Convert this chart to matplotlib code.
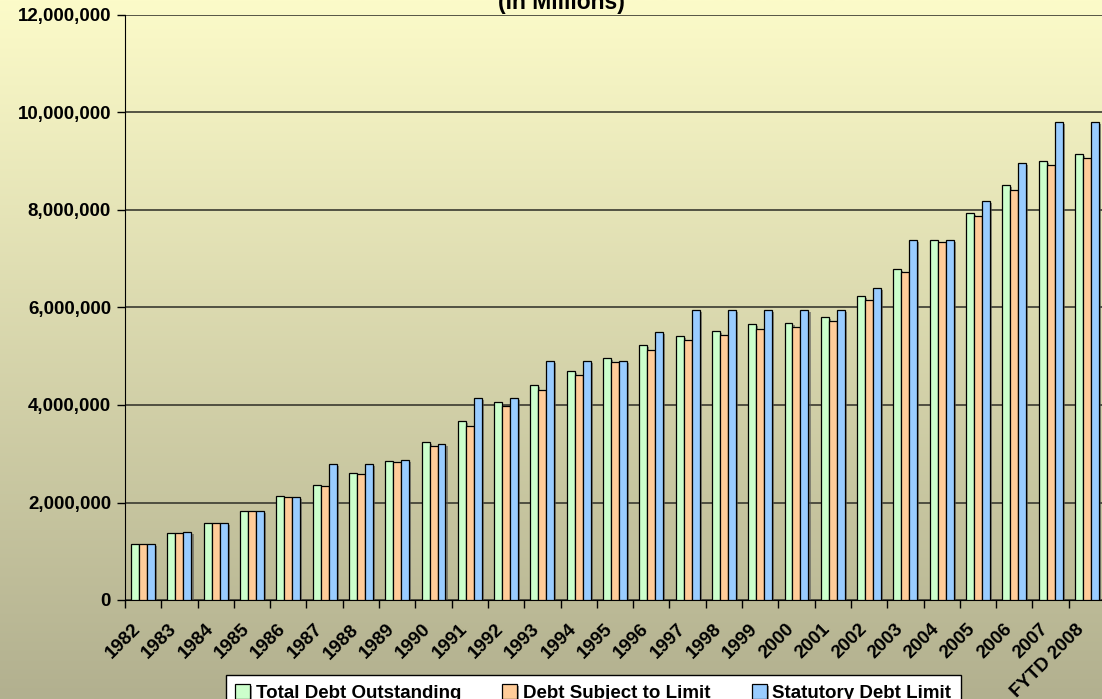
import numpy as np
import matplotlib.pyplot as plt
import matplotlib.transforms as mtransforms
from matplotlib import patheffects
from matplotlib.ticker import FuncFormatter, MultipleLocator

plt.rcParams['font.family'] = ['Liberation Sans', 'DejaVu Sans']
plt.rcParams['font.weight'] = 'bold'

# Data (in millions)
years = ['1982', '1983', '1984', '1985', '1986', '1987', '1988', '1989', '1990',
         '1991', '1992', '1993', '1994', '1995', '1996', '1997', '1998', '1999',
         '2000', '2001', '2002', '2003', '2004', '2005', '2006', '2007', 'FYTD 2008']
total_debt = [1142034, 1377210, 1572266, 1823103, 2125303, 2350277, 2602338, 2857431,
              3233313, 3665303, 4064621, 4411489, 4692750, 4973983, 5224811, 5413146,
              5526193, 5656271, 5674178, 5807463, 6228236, 6783231, 7379053, 7932710,
              8506974, 9007653, 9149000]
subject_debt = [1141000, 1375000, 1570000, 1821000, 2111000, 2336014, 2586869, 2829770,
                3161231, 3569300, 3972578, 4315571, 4605338, 4884605, 5137195, 5327624,
                5439447, 5567694, 5591625, 5732802, 6161431, 6737553, 7333350, 7871040,
                8420278, 8921343, 9067000]
debt_limit = [1143100, 1389000, 1573000, 1823800, 2111000, 2800000, 2800000, 2870000,
              3195000, 4145000, 4145000, 4900000, 4900000, 4900000, 5500000, 5950000,
              5950000, 5950000, 5950000, 5950000, 6400000, 7384000, 7384000, 8184000,
              8965000, 9815000, 9815000]
series_names = ['Total Debt Outstanding', 'Debt Subject to Limit', 'Statutory Debt Limit']
series_colors = ['#CCFFCC', '#FFCC99', '#99CCFF']

W, H = 1102, 699
fig = plt.figure(figsize=(W / 100, H / 100), dpi=100)

# gradient background over the whole figure
bg = fig.add_axes([0, 0, 1, 1], zorder=-10)
top = np.array([252, 251, 201]) / 255
bot = np.array([178, 176, 143]) / 255
t = np.linspace(0, 1, 256)[:, None]
grad = top[None, :] * (1 - t) + bot[None, :] * t
bg.imshow(grad[:, None, :], aspect='auto', extent=[0, 1, 0, 1])
bg.axis('off')

ax = fig.add_axes([125 / W, (H - 600) / H, 980 / W, 585 / H])
ax.set_facecolor('none')

x = np.arange(len(years))
bw = 0.22
shadow = [patheffects.SimplePatchShadow(offset=(1.5, -1.5), shadow_rgbFace='#555555', alpha=0.6),
          patheffects.Normal()]
for i, (vals, name, col) in enumerate(zip([total_debt, subject_debt, debt_limit],
                                          series_names, series_colors)):
    bars = ax.bar(x + (i - 1) * bw, vals, width=bw, color=col, edgecolor='black',
                  linewidth=0.9, label=name, zorder=3)
    for b in bars:
        b.set_path_effects(shadow)

ax.set_xlim(-0.5, len(years) - 0.5)
ax.set_ylim(0, 12000000)
ax.yaxis.set_major_locator(MultipleLocator(2000000))
ax.yaxis.set_major_formatter(FuncFormatter(lambda v, p: f'{int(v):,}'))
ax.grid(axis='y', color='#3a3a30', linewidth=1.2, zorder=1)
ax.set_axisbelow(True)

for s in ['top', 'right']:
    ax.spines[s].set_visible(False)
ax.spines['left'].set_color('black')
ax.spines['bottom'].set_color('black')

ax.set_xticks(x)
ax.set_xticklabels(years, rotation=45, ha='right', rotation_mode='anchor')
ax.tick_params(axis='x', which='major', length=0, pad=15, labelsize=13.5)
ax.set_xticks(np.arange(len(years)) - 0.5, minor=True)
ax.tick_params(axis='x', which='minor', length=6, width=1, color='black')
ax.tick_params(axis='y', length=6, width=1, labelsize=13.5, pad=4)
shift = mtransforms.ScaledTranslation(-11 / 100, 0, fig.dpi_scale_trans)
for lab in ax.get_xticklabels():
    lab.set_fontweight('bold')
    lab.set_transform(lab.get_transform() + shift)
for lab in ax.get_yticklabels():
    lab.set_fontweight('bold')

fig.text(561 / W, 1 - 9 / H, '(In Millions)', ha='center', va='baseline',
         fontsize=16.5, fontweight='bold')

leg = fig.legend(loc='upper center', bbox_to_anchor=(593 / W, 1 - 675 / H), ncol=3,
                 frameon=True, fancybox=False, edgecolor='black', facecolor='white',
                 framealpha=1, prop={'weight': 'bold', 'size': 13.5},
                 handlelength=0.8, handleheight=0.8, handletextpad=0.3,
                 columnspacing=2.2, borderpad=0.5, borderaxespad=0)
leg.get_frame().set_linewidth(1.0)

fig.savefig('out.png', dpi=100)
